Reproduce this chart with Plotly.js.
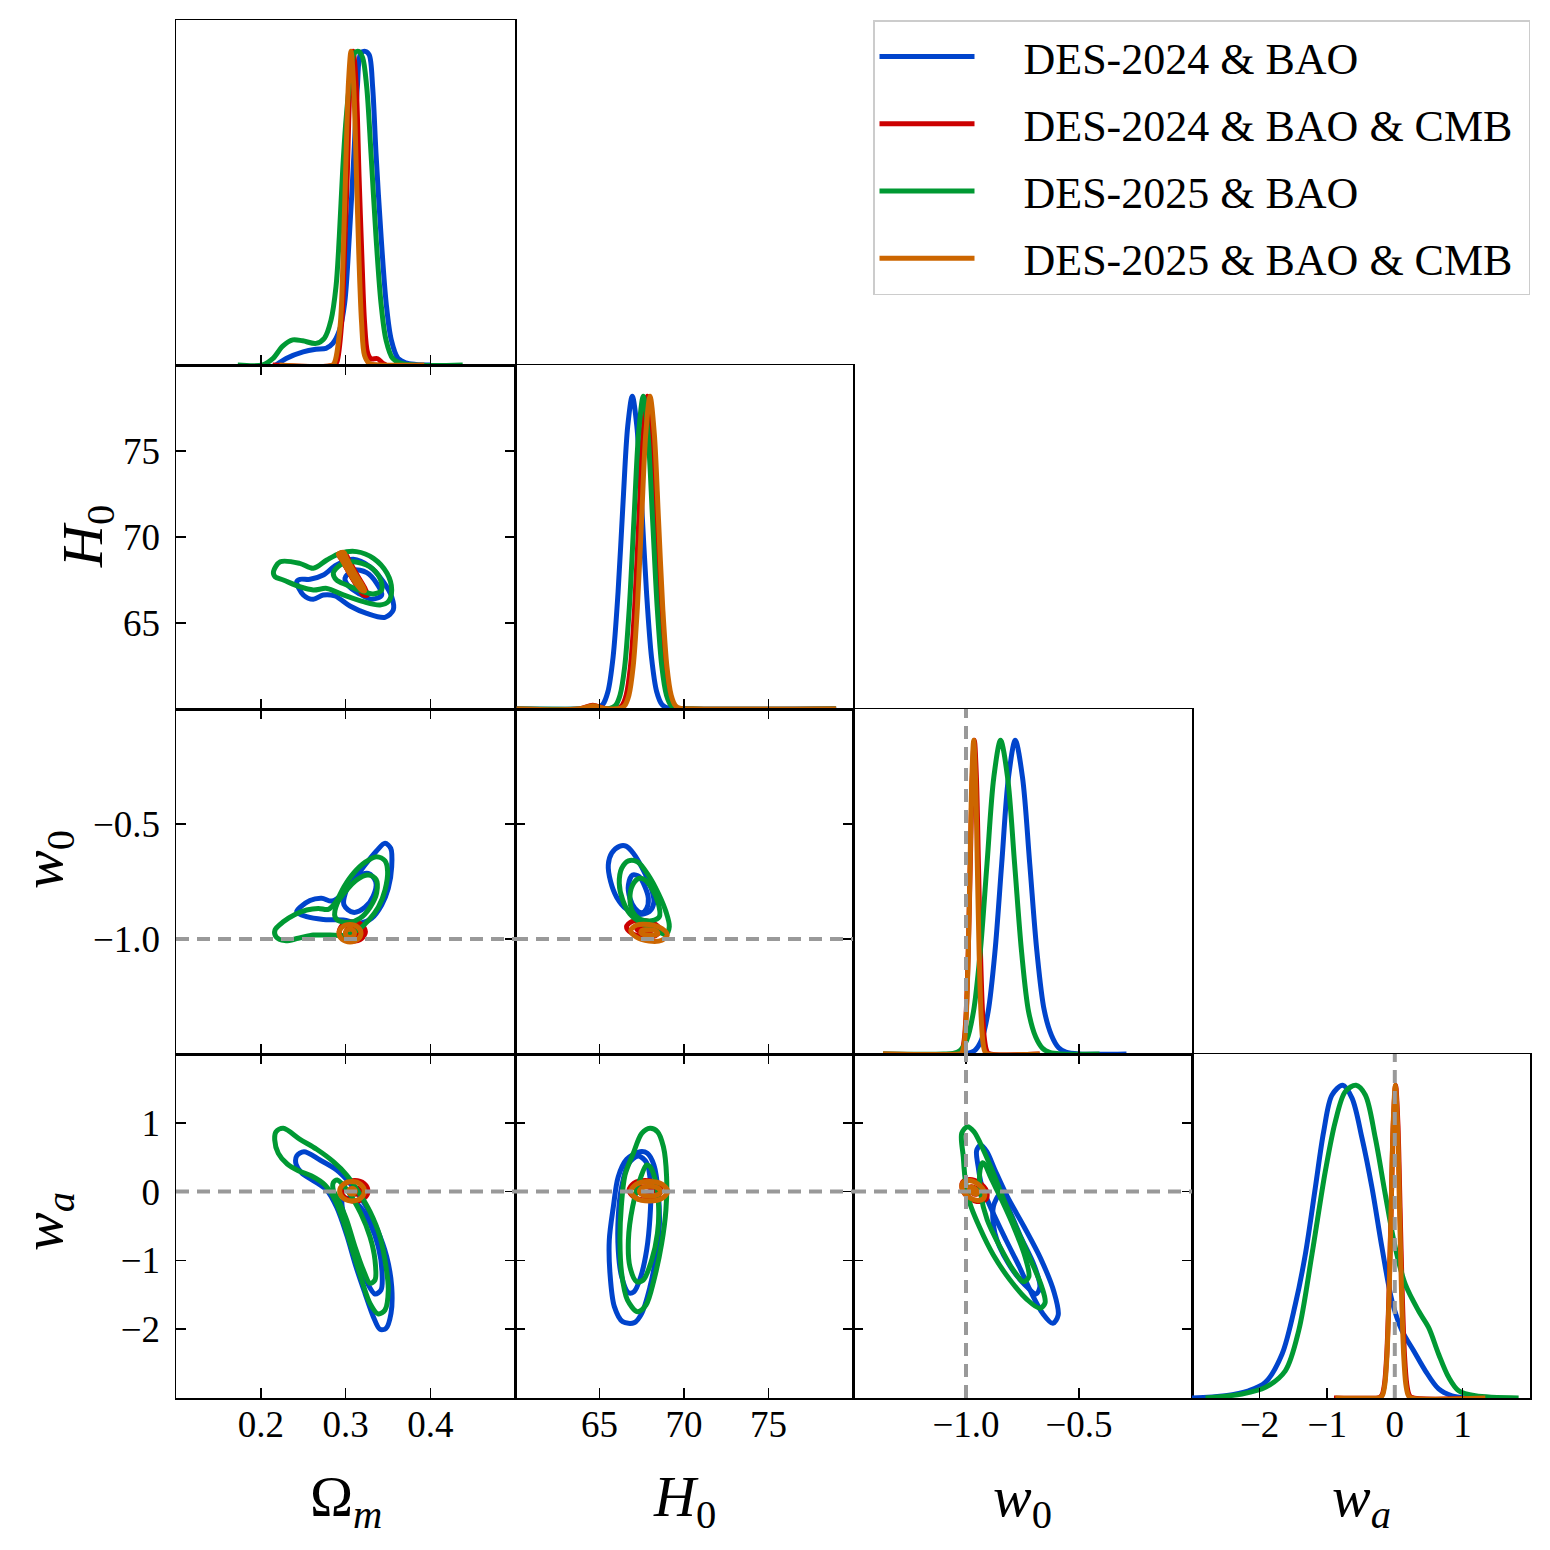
<!DOCTYPE html>
<html><head><meta charset="utf-8">
<script src="https://cdn.plot.ly/plotly-3.0.1.min.js"></script>
<style>html,body{margin:0;padding:0;background:#fff}#plot{width:1550px;height:1550px}</style>
</head><body><div id="plot"></div>
<script>
// ---------------- series ----------------
const seriesNames = ['DES-2024 & BAO', 'DES-2024 & BAO & CMB', 'DES-2025 & BAO', 'DES-2025 & BAO & CMB'];
const seriesColors = ['#0044cc', '#cc0000', '#009933', '#cc6600'];
const paramLabels = ['Ω<sub><i>m</i></sub>', '<i>H</i><sub>0</sub>', '<i>w</i><sub>0</sub>', '<i>w</i><sub><i>a</i></sub>'];
const paramRanges = [[0.1, 0.5], [60, 80], [-1.5, 0], [-3, 2]];
const paramTicks = [[0.2, 0.3, 0.4], [65, 70, 75], [-1.0, -0.5], [-2, -1, 0, 1]];
const paramTickFormat = ['.1f', 'd', '.1f', 'd'];
const refW0 = -1.0;
const refWa = 0.0;

// ---------------- 1D marginals (normalised) ----------------
const om1d_blue_x = [0.218,0.23,0.25,0.265,0.277,0.285,0.293,0.299,0.3045,0.31,0.314,0.318,0.3234,0.328,0.332,0.336,0.342,0.348,0.354,0.362,0.371,0.383,0.40];
const om1d_blue_y = [0,0.021,0.042,0.05,0.053,0.069,0.112,0.197,0.409,0.675,0.887,0.994,1.0,0.989,0.887,0.675,0.409,0.197,0.08,0.021,0.007,0.002,0];
const om1d_red_x = [0.214,0.287,0.29,0.2955,0.2985,0.302,0.3055,0.309,0.3125,0.316,0.3195,0.3225,0.326,0.33,0.338,0.344,0.348];
const om1d_red_y = [0,0,0.011,0.135,0.33,0.6,0.9,1,0.9,0.6,0.33,0.135,0.04,0.02,0.02,0.005,0];
const om1d_green_x = [0.1728,0.2023,0.2141,0.2259,0.2377,0.2495,0.2652,0.275,0.2829,0.2888,0.2927,0.2967,0.3006,0.3053,0.3104,0.3155,0.3203,0.325,0.3301,0.336,0.3419,0.3478,0.3557,0.3675,0.4383];
const om1d_green_y = [0,0,0.02,0.06,0.08,0.077,0.069,0.085,0.143,0.25,0.409,0.622,0.781,0.909,0.994,1.0,0.979,0.887,0.675,0.409,0.197,0.08,0.021,0.004,0];
const om1d_orange_x = [0.222,0.285,0.2875,0.294,0.297,0.300,0.3035,0.3065,0.3095,0.313,0.316,0.319,0.3225,0.328,0.34,0.393];
const om1d_orange_y = [0,0,0.011,0.135,0.33,0.6,0.9,1,0.9,0.6,0.33,0.135,0.03,0.005,0,0];

const h01d_blue_x = [60.1,64.0,64.8,65.2,65.5,65.8,66.1,66.4,66.67,66.94,67.21,67.48,67.78,68.08,68.38,68.7,69.1,70.0,79.0];
const h01d_blue_y = [0,0,0.002,0.015,0.056,0.164,0.375,0.667,0.904,1,0.904,0.667,0.375,0.164,0.056,0.014,0.002,0,0];
const h01d_red_x = [60.1,63.8,64.6,65.3,66.03,66.33,66.58,66.83,67.08,67.33,67.58,67.83,68.08,68.33,68.58,68.83,69.08,69.33,69.63,70.5,79];
const h01d_red_y = [0,0,0.012,0.002,0.002,0.011,0.044,0.135,0.325,0.607,0.882,1,0.882,0.607,0.325,0.135,0.044,0.011,0.002,0,0];
const h01d_green_x = [60.1,64.5,65.61,65.94,66.215,66.49,66.765,67.04,67.315,67.59,67.865,68.14,68.415,68.69,68.965,69.24,69.57,70.5,79];
const h01d_green_y = [0,0,0.002,0.011,0.044,0.135,0.325,0.607,0.882,1,0.882,0.607,0.325,0.135,0.044,0.011,0.002,0,0];
const h01d_orange_x = [60.1,63.8,64.6,65.3,66.19,66.49,66.74,66.99,67.24,67.49,67.74,67.99,68.24,68.49,68.74,68.99,69.24,69.49,69.79,70.5,79];
const h01d_orange_y = [0,0,0.01,0.002,0.002,0.011,0.044,0.135,0.325,0.607,0.882,1,0.882,0.607,0.325,0.135,0.044,0.011,0.002,0,0];

const w01d_blue_x = [-1.01,-0.992,-0.962,-0.932,-0.902,-0.872,-0.842,-0.812,-0.782,-0.75,-0.718,-0.686,-0.654,-0.622,-0.59,-0.558,-0.5,-0.29];
const w01d_blue_y = [0,0.002,0.011,0.044,0.135,0.325,0.607,0.882,1,0.882,0.607,0.325,0.14,0.06,0.02,0.006,0,0];
const w01d_red_x = [-1.367,-1.03,-1.026,-1.017,-1.008,-0.999,-0.99,-0.981,-0.972,-0.963,-0.954,-0.945,-0.936,-0.927,-0.918,-0.909,-0.9,-0.674];
const w01d_red_y = [0,0,0.002,0.011,0.044,0.135,0.325,0.607,0.882,1,0.882,0.607,0.325,0.135,0.044,0.011,0.002,0];
const w01d_green_x = [-1.367,-1.1,-1.057,-1.027,-0.997,-0.967,-0.937,-0.907,-0.877,-0.847,-0.816,-0.785,-0.754,-0.723,-0.692,-0.661,-0.63,-0.58,-0.409];
const w01d_green_y = [0,0,0.002,0.011,0.044,0.135,0.325,0.607,0.882,1,0.882,0.607,0.325,0.135,0.055,0.018,0.005,0,0];
const w01d_orange_x = [-1.367,-1.03,-1.022,-1.014,-1.006,-0.998,-0.99,-0.982,-0.974,-0.966,-0.958,-0.95,-0.942,-0.934,-0.926,-0.918,-0.91,-0.674];
const w01d_orange_y = [0,0,0.002,0.011,0.044,0.135,0.325,0.607,0.882,1,0.882,0.607,0.325,0.135,0.044,0.011,0.002,0];

const wa1d_blue_x = [-3.0,-2.507,-2.162,-1.915,-1.669,-1.471,-1.323,-1.176,-1.052,-0.929,-0.771,-0.633,-0.485,-0.337,-0.189,-0.041,0.107,0.279,0.452,0.649,0.846,1.043];
const wa1d_blue_y = [0,0.007,0.023,0.05,0.14,0.30,0.46,0.672,0.852,0.969,1.0,0.959,0.831,0.672,0.48,0.31,0.215,0.151,0.087,0.029,0.007,0];
const wa1d_red_x = [-0.9,-0.25,-0.219,-0.186,-0.153,-0.12,-0.087,-0.054,-0.021,0.012,0.045,0.078,0.111,0.144,0.177,0.21,0.243,1.3];
const wa1d_red_y = [0,0,0.002,0.011,0.044,0.135,0.325,0.607,0.882,1,0.882,0.607,0.325,0.135,0.044,0.011,0.002,0];
const wa1d_green_x = [-2.8,-2.26,-1.915,-1.62,-1.422,-1.225,-1.028,-0.88,-0.732,-0.574,-0.436,-0.288,-0.14,0.008,0.156,0.353,0.501,0.649,0.797,0.945,1.191,1.832];
const wa1d_green_y = [0,0.013,0.034,0.087,0.215,0.46,0.725,0.884,0.98,1.0,0.969,0.831,0.65,0.48,0.363,0.278,0.225,0.14,0.066,0.023,0.007,0];
const wa1d_orange_x = [-0.88,-0.24,-0.209,-0.178,-0.147,-0.116,-0.085,-0.054,-0.023,0.008,0.039,0.07,0.101,0.132,0.163,0.194,0.225,1.34];
const wa1d_orange_y = [0,0,0.002,0.011,0.044,0.135,0.325,0.607,0.882,1,0.882,0.607,0.325,0.135,0.044,0.011,0.002,0];

// ---------------- 2D contours (95% and 68%) ----------------
// Omega_m - H0
const omh0_blue95_x = [0.2424,0.2502,0.262,0.2738,0.2876,0.3053,0.325,0.3466,0.3564,0.3545,0.3446,0.3289,0.3092,0.2894,0.2738,0.2581,0.2463,0.2424];
const omh0_blue95_y = [67.40,66.63,66.38,66.63,66.57,65.99,65.56,65.33,65.76,66.53,67.40,68.27,68.70,68.37,67.79,67.54,67.54,67.40];
const omh0_blue68_x = [0.2994,0.3092,0.325,0.3368,0.3427,0.3309,0.3153,0.3035,0.2994];
const omh0_blue68_y = [67.60,68.08,67.93,67.31,66.63,66.38,66.73,67.15,67.60];
const omh0_red95_x = [0.2935,0.2990,0.3035,0.3135,0.3235,0.3255,0.3215,0.3125,0.3025,0.2946,0.2918,0.2935];
const omh0_red95_y = [69.05,69.08,68.70,67.80,66.95,66.62,66.62,67.25,68.08,68.75,68.98,69.05];
const omh0_red68_x = [0.298,0.306,0.316,0.321,0.3185,0.3095,0.301,0.297,0.298];
const omh0_red68_y = [68.8,68.15,67.35,66.95,66.95,67.5,68.25,68.7,68.8];
const omh0_green95_x = [0.215,0.223,0.246,0.262,0.278,0.2935,0.313,0.333,0.349,0.3545,0.3505,0.3407,0.321,0.2974,0.278,0.262,0.246,0.2266,0.2168,0.215];
const omh0_green95_y = [67.98,68.56,68.47,68.18,68.66,69.05,69.15,68.76,67.89,66.92,66.24,66.05,66.24,66.63,67.01,66.92,67.11,67.50,67.69,67.98];
const omh0_green68_x = [0.2856,0.2935,0.3092,0.3289,0.3407,0.3427,0.3328,0.3171,0.3014,0.2894,0.2856];
const omh0_green68_y = [67.89,68.37,68.56,68.27,67.60,66.92,66.69,66.89,67.21,67.50,67.89];
const omh0_orange95_x = [0.2929,0.2981,0.3014,0.3113,0.3211,0.3225,0.3195,0.3119,0.3025,0.2946,0.2915,0.2929];
const omh0_orange95_y = [69.05,69.10,68.75,67.86,67.08,66.87,66.90,67.34,68.11,68.77,69.00,69.05];
const omh0_orange68_x = [0.2975,0.3055,0.315,0.3195,0.3175,0.309,0.3005,0.2965,0.2975];
const omh0_orange68_y = [68.85,68.2,67.45,67.1,67.1,67.6,68.3,68.75,68.85];

// Omega_m - w0
const omw0_blue95_x = [0.2424,0.2581,0.2719,0.2837,0.2955,0.3073,0.323,0.3368,0.3466,0.3534,0.3545,0.3505,0.3427,0.3309,0.3171,0.2974,0.2738,0.2542,0.2424];
const omw0_blue95_y = [-0.881,-0.833,-0.823,-0.835,-0.809,-0.755,-0.678,-0.616,-0.584,-0.606,-0.686,-0.780,-0.852,-0.910,-0.932,-0.917,-0.915,-0.903,-0.881];
const omw0_blue68_x = [0.2982,0.302,0.3132,0.3269,0.3357,0.3328,0.323,0.3092,0.2982];
const omw0_blue68_y = [-0.852,-0.780,-0.732,-0.715,-0.751,-0.813,-0.862,-0.884,-0.852];
const omw0_red95_x = [0.3235,0.319,0.308,0.297,0.2925,0.297,0.308,0.319,0.3235];
const omw0_red95_y = [-0.968,-0.938,-0.926,-0.938,-0.968,-0.998,-1.01,-0.998,-0.968];
const omw0_red68_x = [0.315,0.313,0.308,0.303,0.301,0.303,0.308,0.313,0.315];
const omw0_red68_y = [-0.968,-0.954,-0.948,-0.954,-0.968,-0.982,-0.988,-0.982,-0.968];
const omw0_green95_x = [0.2168,0.2266,0.2404,0.2542,0.2679,0.2797,0.2888,0.2982,0.3100,0.323,0.3368,0.3466,0.3497,0.3466,0.3387,0.3269,0.3132,0.2994,0.2817,0.262,0.2443,0.2286,0.218,0.2168];
const omw0_green95_y = [-0.961,-0.925,-0.893,-0.874,-0.867,-0.871,-0.838,-0.773,-0.712,-0.667,-0.642,-0.660,-0.707,-0.787,-0.862,-0.920,-0.964,-0.983,-0.983,-0.983,-0.997,-1.007,-0.990,-0.961];
const omw0_green68_x = [0.2876,0.2903,0.3014,0.3132,0.3269,0.336,0.3368,0.329,0.3171,0.3053,0.2927,0.2876];
const omw0_green68_y = [-0.903,-0.845,-0.787,-0.743,-0.722,-0.741,-0.799,-0.862,-0.910,-0.927,-0.922,-0.903];
const omw0_orange95_x = [0.3183,0.3145,0.3053,0.2961,0.2923,0.2961,0.3053,0.3145,0.3183];
const omw0_orange95_y = [-0.975,-0.948,-0.937,-0.948,-0.975,-1.002,-1.013,-1.002,-0.975];
const omw0_orange68_x = [0.3108,0.3092,0.3053,0.3014,0.2998,0.3014,0.3053,0.3092,0.3108];
const omw0_orange68_y = [-0.975,-0.962,-0.957,-0.962,-0.975,-0.988,-0.993,-0.988,-0.975];

// H0 - w0
const h0w0_blue95_x = [66.21,65.72,65.52,65.66,66.02,66.61,67.30,67.95,68.22,68.03,67.59,67.00,66.57,66.21];
const h0w0_blue95_y = [-0.596,-0.627,-0.678,-0.751,-0.819,-0.871,-0.893,-0.881,-0.838,-0.773,-0.700,-0.627,-0.596,-0.596];
const h0w0_blue68_x = [66.96,66.71,66.80,67.10,67.50,67.79,67.89,67.69,67.36,66.96];
const h0w0_blue68_y = [-0.722,-0.765,-0.823,-0.867,-0.886,-0.867,-0.823,-0.773,-0.729,-0.722];
const h0w0_red95_x = [68.6,68.31,67.6,66.89,66.6,66.89,67.6,68.31,68.6];
const h0w0_red95_y = [-0.963,-0.936,-0.92,-0.9246,-0.947,-0.974,-0.99,-0.9854,-0.963];
const h0w0_red68_x = [68.1,67.97,67.65,67.33,67.2,67.33,67.65,67.97,68.1];
const h0w0_red68_y = [-0.96,-0.949,-0.943,-0.947,-0.954,-0.965,-0.971,-0.968,-0.96];
const h0w0_green95_x = [66.71,66.31,66.17,66.37,66.80,67.50,68.28,68.93,69.13,68.93,68.48,67.89,67.24,66.71];
const h0w0_green95_y = [-0.660,-0.693,-0.758,-0.830,-0.891,-0.932,-0.961,-0.980,-0.946,-0.881,-0.801,-0.722,-0.664,-0.660];
const h0w0_green68_x = [67.36,66.96,66.80,66.96,67.40,68.09,68.54,68.48,68.09,67.69,67.36];
const h0w0_green68_y = [-0.736,-0.765,-0.823,-0.881,-0.914,-0.920,-0.903,-0.845,-0.780,-0.743,-0.736];
const h0w0_orange95_x = [69.01,68.69,67.93,67.17,66.85,67.17,67.93,68.69,69.01];
const h0w0_orange95_y = [-0.983,-0.9545,-0.937,-0.9405,-0.963,-0.9915,-1.009,-1.0055,-0.983];
const h0w0_orange68_x = [68.45,68.30,67.95,67.60,67.45,67.60,67.95,68.30,68.45];
const h0w0_orange68_y = [-0.975,-0.9635,-0.960,-0.9605,-0.969,-0.9805,-0.984,-0.9835,-0.975];

// Omega_m - wa
const omwa_blue95_x = [0.2424,0.251,0.2699,0.2896,0.3053,0.321,0.3368,0.3486,0.3545,0.3537,0.3478,0.3407,0.3328,0.323,0.3124,0.3014,0.2896,0.2778,0.262,0.2481,0.2416,0.2424];
const omwa_blue95_y = [0.517,0.580,0.459,0.314,0.121,-0.147,-0.534,-0.946,-1.382,-1.769,-1.987,-2.002,-1.818,-1.479,-1.092,-0.631,-0.228,0.023,0.159,0.275,0.401,0.517];
const omwa_blue68_x = [0.2965,0.3014,0.3124,0.325,0.3348,0.3419,0.3431,0.3387,0.3289,0.3163,0.3045,0.2965];
const omwa_blue68_y = [-0.122,-0.510,-0.946,-1.309,-1.488,-1.430,-1.164,-0.801,-0.461,-0.209,-0.098,-0.122];
const omwa_red95_x = [0.3265,0.322,0.311,0.300,0.2955,0.300,0.311,0.322,0.3265];
const omwa_red95_y = [0.01,0.116,0.16,0.116,0.01,-0.096,-0.14,-0.096,0.01];
const omwa_red68_x = [0.317,0.3152,0.311,0.3068,0.305,0.3068,0.311,0.3152,0.317];
const omwa_red68_y = [0.01,0.045,0.06,0.045,0.01,-0.025,-0.04,-0.025,0.01];
const omwa_green95_x = [0.218,0.2266,0.2463,0.266,0.2856,0.3014,0.3151,0.3289,0.3407,0.3478,0.3505,0.3466,0.3387,0.3289,0.3191,0.3092,0.2982,0.2876,0.2758,0.2601,0.2443,0.2313,0.2207,0.2165,0.218];
const omwa_green95_y = [0.871,0.920,0.760,0.615,0.435,0.241,-0.001,-0.292,-0.656,-1.092,-1.430,-1.721,-1.779,-1.624,-1.285,-0.897,-0.461,-0.122,0.096,0.227,0.304,0.401,0.557,0.750,0.871];
const omwa_green68_x = [0.2856,0.2903,0.3033,0.3179,0.3289,0.3348,0.3348,0.3289,0.321,0.3112,0.3014,0.2915,0.2856,0.2856];
const omwa_green68_y = [0.130,0.169,-0.001,-0.315,-0.656,-0.994,-1.285,-1.333,-1.140,-0.801,-0.413,-0.122,0.023,0.130];
const omwa_orange95_x = [0.3223,0.3180,0.3077,0.2974,0.2931,0.2974,0.3077,0.3180,0.3223];
const omwa_orange95_y = [0.004,0.104,0.145,0.104,0.004,-0.096,-0.137,-0.096,0.004];
const omwa_orange68_x = [0.3117,0.3105,0.3077,0.3049,0.3037,0.3049,0.3077,0.3105,0.3117];
const omwa_orange68_y = [0.004,0.032,0.044,0.032,0.004,-0.024,-0.036,-0.024,0.004];

// H0 - wa
const h0wa_blue95_x = [67.40,66.61,66.11,65.82,65.58,65.62,65.88,66.37,67.06,67.50,67.99,68.34,68.54,68.48,68.22,67.83,67.40];
const h0wa_blue95_y = [0.580,0.469,0.217,-0.219,-0.703,-1.187,-1.672,-1.891,-1.905,-1.769,-1.382,-0.946,-0.510,-0.025,0.387,0.557,0.580];
const h0wa_blue68_x = [67.30,66.71,66.31,66.11,66.11,66.31,66.71,67.04,67.44,67.79,67.99,68.03,67.79,67.30];
const h0wa_blue68_y = [0.517,0.401,0.071,-0.365,-0.849,-1.237,-1.469,-1.455,-1.237,-0.849,-0.365,0.096,0.420,0.517];
const h0wa_red95_x = [68.65,68.37,67.7,67.03,66.75,67.03,67.7,68.37,68.65];
const h0wa_red95_y = [0.02,0.119,0.16,0.119,0.02,-0.079,-0.12,-0.079,0.02];
const h0wa_red68_x = [68.2,68.05,67.7,67.35,67.2,67.35,67.7,68.05,68.2];
const h0wa_red68_y = [0.02,0.055,0.07,0.055,0.02,-0.015,-0.03,-0.015,0.02];
const h0wa_green95_x = [67.99,67.50,67.00,66.51,66.29,66.21,66.31,66.65,67.24,67.75,68.22,68.68,68.93,68.97,68.78,68.43,67.99];
const h0wa_green95_y = [0.920,0.847,0.557,0.241,-0.219,-0.703,-1.187,-1.575,-1.745,-1.648,-1.285,-0.751,-0.267,0.217,0.653,0.871,0.920];
const h0wa_green68_x = [67.79,67.44,66.96,66.71,66.80,67.20,67.59,68.09,68.43,68.50,68.30,67.99,67.79];
const h0wa_green68_y = [0.387,0.208,-0.219,-0.703,-1.092,-1.309,-1.285,-0.994,-0.606,-0.219,0.169,0.362,0.387];
const h0wa_orange95_x = [69.04,68.72,67.94,67.16,66.84,67.16,67.94,68.72,69.04];
const h0wa_orange95_y = [0.005,0.105,0.147,0.105,0.005,-0.095,-0.137,-0.095,0.005];
const h0wa_orange68_x = [68.62,68.44,67.99,67.54,67.36,67.54,67.99,68.44,68.62];
const h0wa_orange68_y = [0.005,0.056,0.077,0.056,0.005,-0.046,-0.067,-0.046,0.005];

// w0 - wa
const w0wa_blue95_x = [-0.935,-0.953,-0.946,-0.931,-0.886,-0.823,-0.764,-0.717,-0.661,-0.616,-0.592,-0.611,-0.670,-0.743,-0.817,-0.872,-0.908,-0.935];
const w0wa_blue95_y = [0.677,0.595,0.362,0.096,-0.267,-0.703,-1.092,-1.430,-1.769,-1.915,-1.794,-1.455,-0.970,-0.510,-0.074,0.314,0.580,0.677];
const w0wa_blue68_x = [-0.850,-0.879,-0.872,-0.813,-0.739,-0.690,-0.673,-0.699,-0.758,-0.805,-0.835,-0.850];
const w0wa_blue68_y = [-0.039,-0.219,-0.606,-1.042,-1.357,-1.488,-1.382,-1.067,-0.656,-0.292,-0.083,-0.039];
const w0wa_red95_x = [-0.9098,-0.9414,-0.9853,-1.0157,-1.015,-0.9834,-0.9395,-0.9091,-0.9098];
const w0wa_red95_y = [-0.105,-0.145,-0.091,0.026,0.137,0.177,0.123,0.006,-0.105];
const w0wa_red68_x = [-0.946,-0.956,-0.972,-0.984,-0.985,-0.975,-0.958,-0.947,-0.946];
const w0wa_red68_y = [-0.03,-0.04,-0.018,0.024,0.062,0.072,0.05,0.008,-0.03];
const w0wa_green95_x = [-0.994,-1.019,-1.012,-1.004,-0.985,-0.938,-0.879,-0.805,-0.731,-0.673,-0.650,-0.665,-0.714,-0.773,-0.832,-0.879,-0.923,-0.965,-0.994];
const w0wa_green95_y = [0.944,0.847,0.507,0.193,-0.147,-0.534,-0.922,-1.285,-1.566,-1.696,-1.615,-1.382,-0.994,-0.558,-0.122,0.266,0.605,0.871,0.944];
const w0wa_green68_x = [-0.926,-0.938,-0.935,-0.906,-0.850,-0.791,-0.746,-0.722,-0.739,-0.783,-0.842,-0.891,-0.915,-0.926];
const w0wa_green68_y = [0.420,0.314,-0.025,-0.413,-0.801,-1.140,-1.309,-1.237,-0.946,-0.558,-0.122,0.208,0.387,0.420];
const w0wa_orange95_x = [-0.9206,-0.9488,-0.988,-1.0154,-1.0148,-0.9866,-0.9474,-0.92,-0.9206];
const w0wa_orange95_y = [-0.0925,-0.128,-0.079,0.0254,0.1244,0.160,0.111,0.0066,-0.0925];
const w0wa_orange68_x = [-0.9496,-0.9594,-0.974,-0.985,-0.9858,-0.976,-0.9613,-0.9503,-0.9496];
const w0wa_orange68_y = [-0.0252,-0.0346,-0.0138,0.0244,0.0577,0.0666,0.0458,0.0076,-0.0252];

// ---------------- layout geometry ----------------
const FIG = 1550;
const colEdges = [176, 515, 853, 1192, 1530];
const rowEdges = [20, 365, 709, 1054, 1398];
const FONT = 'Liberation Serif, Times New Roman, serif';
const LW = 5;
const LEGEND_PAD_L = '\u00a0\u00a0\u00a0\u00a0';
const LEGEND_PAD_R = '\u00a0';

function xdom(c) { return [colEdges[c] / FIG, colEdges[c + 1] / FIG]; }
function ydom(r) { return [1 - rowEdges[r + 1] / FIG, 1 - rowEdges[r] / FIG]; }

// panel index k for (row, col)
const panelList = [];
let kk = 1;
for (let r = 0; r < 4; r++) for (let c = 0; c <= r; c++) { panelList.push({ r, c, k: kk }); kk++; }
function pk(r, c) { return panelList.find(p => p.r === r && p.c === c).k; }
function xn(k) { return k === 1 ? 'x' : 'x' + k; }
function yn(k) { return k === 1 ? 'y' : 'y' + k; }

const traces = [];
function addLine(k, x, y, si, showLegend) {
  traces.push({
    type: 'scatter', mode: 'lines', x: x, y: y,
    xaxis: xn(k), yaxis: yn(k),
    line: { color: seriesColors[si], width: LW, shape: 'spline', smoothing: 0.9 },
    name: LEGEND_PAD_L + seriesNames[si] + LEGEND_PAD_R, legendgroup: 'g' + si, showlegend: !!showLegend,
    hoverinfo: 'skip'
  });
}

// diagonal 1D
const diag = [
  [[om1d_blue_x, om1d_blue_y], [om1d_red_x, om1d_red_y], [om1d_green_x, om1d_green_y], [om1d_orange_x, om1d_orange_y]],
  [[h01d_blue_x, h01d_blue_y], [h01d_red_x, h01d_red_y], [h01d_green_x, h01d_green_y], [h01d_orange_x, h01d_orange_y]],
  [[w01d_blue_x, w01d_blue_y], [w01d_red_x, w01d_red_y], [w01d_green_x, w01d_green_y], [w01d_orange_x, w01d_orange_y]],
  [[wa1d_blue_x, wa1d_blue_y], [wa1d_red_x, wa1d_red_y], [wa1d_green_x, wa1d_green_y], [wa1d_orange_x, wa1d_orange_y]]
];
diag.forEach((curves, p) => {
  const k = pk(p, p);
  curves.forEach((cv, si) => addLine(k, cv[0], cv[1], si, p === 0));
});

// 2D contours
const twoD = [
  { r: 1, c: 0, s: [[omh0_blue95_x, omh0_blue95_y, omh0_blue68_x, omh0_blue68_y], [omh0_red95_x, omh0_red95_y, omh0_red68_x, omh0_red68_y], [omh0_green95_x, omh0_green95_y, omh0_green68_x, omh0_green68_y], [omh0_orange95_x, omh0_orange95_y, omh0_orange68_x, omh0_orange68_y]] },
  { r: 2, c: 0, s: [[omw0_blue95_x, omw0_blue95_y, omw0_blue68_x, omw0_blue68_y], [omw0_red95_x, omw0_red95_y, omw0_red68_x, omw0_red68_y], [omw0_green95_x, omw0_green95_y, omw0_green68_x, omw0_green68_y], [omw0_orange95_x, omw0_orange95_y, omw0_orange68_x, omw0_orange68_y]] },
  { r: 2, c: 1, s: [[h0w0_blue95_x, h0w0_blue95_y, h0w0_blue68_x, h0w0_blue68_y], [h0w0_red95_x, h0w0_red95_y, h0w0_red68_x, h0w0_red68_y], [h0w0_green95_x, h0w0_green95_y, h0w0_green68_x, h0w0_green68_y], [h0w0_orange95_x, h0w0_orange95_y, h0w0_orange68_x, h0w0_orange68_y]] },
  { r: 3, c: 0, s: [[omwa_blue95_x, omwa_blue95_y, omwa_blue68_x, omwa_blue68_y], [omwa_red95_x, omwa_red95_y, omwa_red68_x, omwa_red68_y], [omwa_green95_x, omwa_green95_y, omwa_green68_x, omwa_green68_y], [omwa_orange95_x, omwa_orange95_y, omwa_orange68_x, omwa_orange68_y]] },
  { r: 3, c: 1, s: [[h0wa_blue95_x, h0wa_blue95_y, h0wa_blue68_x, h0wa_blue68_y], [h0wa_red95_x, h0wa_red95_y, h0wa_red68_x, h0wa_red68_y], [h0wa_green95_x, h0wa_green95_y, h0wa_green68_x, h0wa_green68_y], [h0wa_orange95_x, h0wa_orange95_y, h0wa_orange68_x, h0wa_orange68_y]] },
  { r: 3, c: 2, s: [[w0wa_blue95_x, w0wa_blue95_y, w0wa_blue68_x, w0wa_blue68_y], [w0wa_red95_x, w0wa_red95_y, w0wa_red68_x, w0wa_red68_y], [w0wa_green95_x, w0wa_green95_y, w0wa_green68_x, w0wa_green68_y], [w0wa_orange95_x, w0wa_orange95_y, w0wa_orange68_x, w0wa_orange68_y]] }
];
twoD.forEach(p => {
  const k = pk(p.r, p.c);
  p.s.forEach((a, si) => { addLine(k, a[0], a[1], si, false); addLine(k, a[2], a[3], si, false); });
});

// ---------------- layout ----------------
const layout = {
  width: FIG, height: FIG, margin: { l: 0, r: 0, t: 0, b: 0 },
  paper_bgcolor: '#fff', plot_bgcolor: '#fff',
  font: { family: FONT, color: '#000' },
  showlegend: true,
  legend: {
    x: 1530 / FIG, y: 1 - 20 / FIG, xanchor: 'right', yanchor: 'top',
    bgcolor: '#fff', bordercolor: '#cccccc', borderwidth: 1.5,
    font: { family: FONT, size: 44, color: '#000' },
    tracegroupgap: 7, itemwidth: 95
  },
  shapes: [], annotations: []
};

panelList.forEach(({ r, c, k }) => {
  const isDiag = r === c;
  const xa = {
    domain: xdom(c), anchor: yn(k), range: paramRanges[c],
    tickvals: paramTicks[c], tickformat: paramTickFormat[c],
    showticklabels: r === 3, ticks: 'inside', ticklen: 10, tickwidth: 1.5, tickcolor: '#000',
    showline: true, linecolor: '#000', linewidth: 1.5, mirror: isDiag ? true : 'ticks',
    showgrid: false, zeroline: false, fixedrange: true, ticklabelstandoff: -7,
    tickfont: { family: FONT, size: 37, color: '#000' }
  };
  const ya = isDiag ? {
    domain: ydom(r), anchor: xn(k), range: [0, 1.1],
    showticklabels: false, ticks: '', showline: true, linecolor: '#000', linewidth: 1.5, mirror: true,
    showgrid: false, zeroline: false, fixedrange: true
  } : {
    domain: ydom(r), anchor: xn(k), range: paramRanges[r],
    tickvals: paramTicks[r], tickformat: paramTickFormat[r],
    showticklabels: c === 0, ticks: 'inside', ticklen: 10, tickwidth: 1.5, tickcolor: '#000',
    showline: true, linecolor: '#000', linewidth: 1.5, mirror: 'ticks',
    showgrid: false, zeroline: false, fixedrange: true, ticklabelstandoff: 7,
    tickfont: { family: FONT, size: 37, color: '#000' }
  };
  layout[k === 1 ? 'xaxis' : 'xaxis' + k] = xa;
  layout[k === 1 ? 'yaxis' : 'yaxis' + k] = ya;
});

// reference dashed lines (w0 = -1, wa = 0)
const dashStyle = { color: '#999999', width: 4, dash: '13px,8px' };
function hline(k, yv) { layout.shapes.push({ type: 'line', xref: xn(k) + ' domain', x0: 0, x1: 1, yref: yn(k), y0: yv, y1: yv, line: dashStyle, layer: 'above' }); }
function vline(k, xv) { layout.shapes.push({ type: 'line', yref: yn(k) + ' domain', y0: 0, y1: 1, xref: xn(k), x0: xv, x1: xv, line: dashStyle, layer: 'above' }); }
hline(pk(2, 0), refW0); hline(pk(2, 1), refW0); vline(pk(2, 2), refW0);
hline(pk(3, 0), refWa); hline(pk(3, 1), refWa); hline(pk(3, 2), refWa);
vline(pk(3, 2), refW0); vline(pk(3, 3), refWa);

// axis titles
for (let c = 0; c < 4; c++) {
  layout.annotations.push({
    xref: 'paper', yref: 'paper', x: (colEdges[c] + colEdges[c + 1]) / 2 / FIG, y: 1 - 1500 / FIG,
    xanchor: 'center', yanchor: 'middle', showarrow: false, text: paramLabels[c],
    font: { family: FONT, size: 58, color: '#000' }
  });
}
const yTitleX = [null, 86, 46, 46];
const yTitleY = [null, 537, 860, 1222];
for (let r = 1; r < 4; r++) {
  layout.annotations.push({
    xref: 'paper', yref: 'paper', x: yTitleX[r] / FIG, y: 1 - yTitleY[r] / FIG,
    xanchor: 'center', yanchor: 'middle', showarrow: false, text: paramLabels[r], textangle: -90,
    font: { family: FONT, size: 58, color: '#000' }
  });
}

Plotly.newPlot('plot', traces, layout, { staticPlot: true, displayModeBar: false });
</script></body></html>
